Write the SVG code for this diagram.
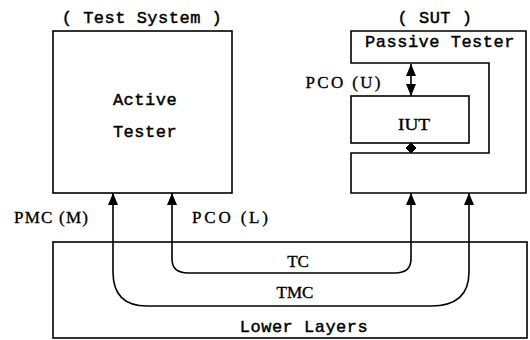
<svg xmlns="http://www.w3.org/2000/svg" width="530" height="340" viewBox="0 0 530 340">
<style>
.box{fill:none;stroke:#000;stroke-width:1.6}
.ln{fill:none;stroke:#000;stroke-width:1.6}
.mono{font-family:"Liberation Mono","DejaVu Sans Mono",monospace;font-size:17px;letter-spacing:0.5px;fill:#000;stroke:#000;stroke-width:0.45}
.serif{font-family:"Liberation Serif","DejaVu Serif",serif;font-size:17px;fill:#000;stroke:#000;stroke-width:0.35}
</style>
<defs>
<marker id="ah" viewBox="0 0 12 10" refX="12" refY="5" markerWidth="12" markerHeight="10" markerUnits="userSpaceOnUse" orient="auto-start-reverse">
<path d="M0,0 L12,5 L0,10 Z" fill="#000"/>
</marker>
</defs>
<rect width="530" height="340" fill="#fff"/>
<g id="test-system">
<text class="mono" x="142" y="23" text-anchor="middle">( Test System )</text>
<rect class="box" x="53" y="31" width="179" height="162"/>
<text class="mono" x="145" y="105" text-anchor="middle">Active</text>
<text class="mono" x="145" y="137" text-anchor="middle">Tester</text>
</g>
<g id="sut">
<text class="mono" x="435" y="23" text-anchor="middle">( SUT )</text>
<path class="box" d="M351,31 H526 V193 H351 V153 H489 V63 H351 Z"/>
<text class="mono" x="440" y="47" text-anchor="middle">Passive Tester</text>
</g>
<g id="iut">
<rect class="box" x="351" y="96" width="118" height="47"/>
<text class="serif" x="414" y="130" text-anchor="middle" textLength="32" lengthAdjust="spacingAndGlyphs">IUT</text>
</g>
<g id="lower-layers">
<rect class="box" x="53" y="242" width="474" height="96"/>
<text class="mono" x="304" y="332" text-anchor="middle">Lower Layers</text>
</g>
<g id="connectors">
<path class="ln" d="M411,64 V96" marker-start="url(#ah)" marker-end="url(#ah)"/>
<path d="M411,143 L416,148 L411,153 L406,148 Z" fill="#000" stroke="#000" stroke-width="1"/>
<path class="ln" d="M113,193 V272 Q113,306 147,306 H431 Q469,306 469,272 V193" marker-start="url(#ah)" marker-end="url(#ah)"/>
<path class="ln" d="M172,193 V259 Q172,273 188,273 H395 Q411,273 411,259 V193" marker-start="url(#ah)" marker-end="url(#ah)"/>
</g>
<g id="labels">
<text class="serif" x="343" y="88" text-anchor="middle" textLength="75" lengthAdjust="spacing">PCO (U)</text>
<text class="serif" x="51" y="223" text-anchor="middle" textLength="74" lengthAdjust="spacing">PMC (M)</text>
<text class="serif" x="230" y="223" text-anchor="middle" textLength="76" lengthAdjust="spacing">PCO (L)</text>
<text class="serif" x="298" y="267" text-anchor="middle">TC</text>
<text class="serif" x="295" y="298" text-anchor="middle">TMC</text>
</g>
</svg>
